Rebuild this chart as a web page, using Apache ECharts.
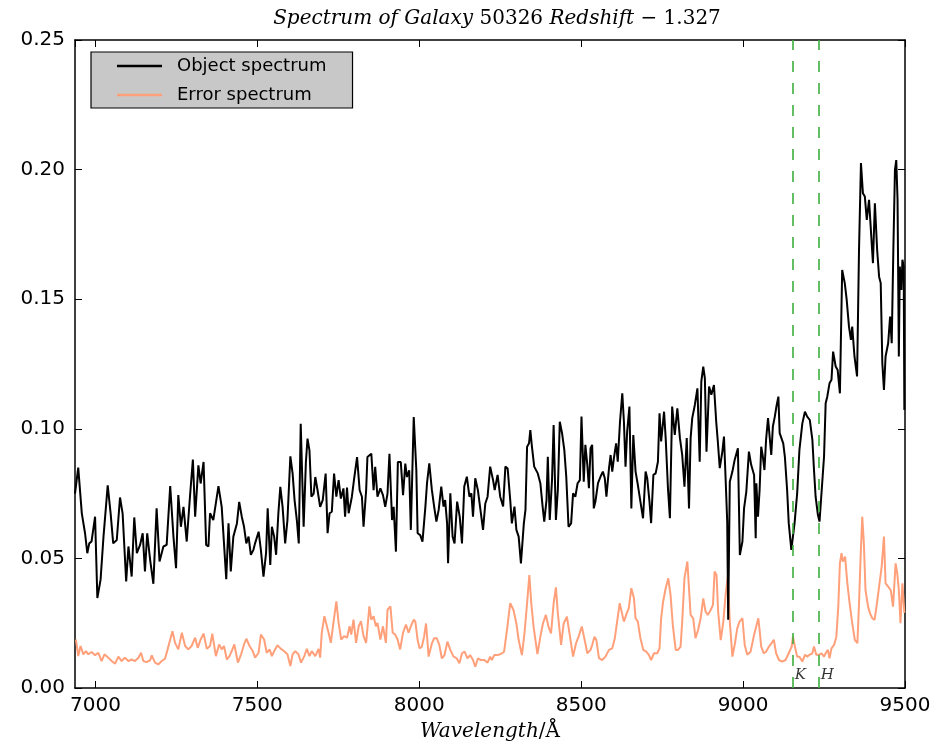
<!DOCTYPE html>
<html>
<head>
<meta charset="utf-8">
<title>Spectrum of Galaxy 50326</title>
<script src="https://cdn.jsdelivr.net/npm/echarts@6/dist/echarts.min.js"></script>
<style>
  html, body { margin: 0; padding: 0; background: #fff; }
  #chart { width: 935px; height: 748px; }
</style>
</head>
<body>
<div id="chart"></div>
<script>
// Object spectrum: wavelength (Å) and flux
const objWave = [
  6937, 6947, 6958, 6968, 6975, 6981, 6988, 6999, 7006, 7016, 7025, 7038, 7047, 7055, 7066, 7076,
  7084, 7095, 7102, 7112, 7120, 7128, 7138, 7146, 7153, 7160, 7169, 7179, 7189, 7198, 7210, 7220,
  7231, 7241, 7249, 7256, 7264, 7272, 7282, 7292, 7301, 7308, 7318, 7325, 7334, 7342, 7349, 7354,
  7364, 7380, 7390, 7404, 7411, 7418, 7426, 7437, 7444,
  7452, 7459, 7466, 7473, 7480, 7488, 7493, 7504, 7511, 7519, 7527, 7532, 7540, 7545, 7552, 7558,
  7565, 7571, 7578, 7586, 7593, 7602, 7609, 7615, 7622, 7628, 7634, 7643, 7650, 7655, 7661, 7667,
  7674, 7679, 7686, 7694, 7702, 7711, 7717, 7723, 7730, 7737, 7744, 7751, 7758, 7766, 7771, 7777,
  7782, 7792, 7799, 7808, 7816, 7823, 7828, 7836, 7840, 7852, 7859, 7864, 7871, 7880, 7888, 7895,
  7902, 7908, 7916, 7921, 7928, 7934, 7943, 7950, 7957, 7962, 7969, 7974, 7983,
  7991, 7995, 8003, 8010, 8019, 8024, 8031, 8039, 8046, 8053, 8060, 8068, 8075, 8080, 8086, 8089,
  8096, 8103, 8109, 8117, 8125, 8132, 8139, 8147, 8155, 8161, 8166, 8173, 8181, 8189, 8197, 8204,
  8211, 8219, 8228, 8233, 8242, 8250, 8259, 8266, 8273, 8281, 8286, 8294, 8300, 8307, 8314, 8323,
  8328, 8333, 8339, 8343, 8348, 8355, 8366, 8374, 8381, 8386, 8393, 8397, 8403, 8410, 8415, 8422,
  8428, 8434, 8441, 8448, 8454, 8461, 8469, 8475, 8482, 8489, 8496, 8501,
  8508, 8513, 8519, 8524, 8529, 8534, 8539, 8544, 8552, 8560, 8567, 8573, 8578, 8586, 8591, 8596,
  8601, 8608, 8613, 8620, 8627, 8632, 8637, 8642, 8649, 8655, 8661, 8668, 8675, 8683, 8691, 8699,
  8704, 8711, 8716, 8723, 8730, 8737, 8742, 8747, 8756, 8761, 8768, 8774, 8781, 8789, 8797, 8805,
  8812, 8819, 8826, 8833, 8838, 8843, 8851, 8859, 8866, 8871, 8877, 8882, 8887, 8895, 8902, 8910,
  8917, 8922, 8928, 8936, 8941, 8946, 8951, 8954, 8959, 8967, 8974, 8984, 8990, 8998, 9003, 9010,
  9018, 9025, 9034, 9039,
  9041, 9046, 9051, 9056, 9061, 9066, 9071, 9077, 9082, 9087, 9092, 9098, 9103, 9109, 9113, 9119,
  9124, 9129, 9136, 9141, 9149, 9159, 9167, 9174, 9183, 9191, 9198, 9206, 9214, 9219, 9224, 9231,
  9236, 9242, 9250, 9255,
  9260, 9267, 9273, 9278, 9286, 9292, 9299, 9306, 9314, 9320, 9327, 9333, 9337, 9344, 9352, 9358,
  9364, 9370, 9376, 9382, 9389, 9394, 9401, 9407, 9414, 9420, 9425, 9430, 9435, 9440, 9448, 9454,
  9459, 9464, 9469, 9473, 9477, 9481, 9484, 9489, 9492, 9496, 9498
];
const objFlux = [
  0.0750, 0.0850, 0.0674, 0.0597, 0.0520, 0.0558, 0.0565, 0.0661, 0.0347, 0.0418, 0.0584, 0.0782, 0.0674, 0.0558, 0.0571, 0.0735,
  0.0674, 0.0411, 0.0546, 0.0430, 0.0658, 0.0520, 0.0552, 0.0597, 0.0450, 0.0597, 0.0494, 0.0402, 0.0693, 0.0488, 0.0546, 0.0552,
  0.0779, 0.0584, 0.0462, 0.0744, 0.0622, 0.0699, 0.0565, 0.0738, 0.0881, 0.0661, 0.0859, 0.0789, 0.0872, 0.0552, 0.0546, 0.0674,
  0.0648, 0.0779, 0.0699, 0.0420, 0.0635, 0.0450, 0.0584, 0.0635, 0.0718,
  0.0661, 0.0622, 0.0558, 0.0584, 0.0514, 0.0533, 0.0558, 0.0603, 0.0533, 0.0430, 0.0520, 0.0693, 0.0475, 0.0622, 0.0584, 0.0514,
  0.0674, 0.0776, 0.0699, 0.0558, 0.0648, 0.0894, 0.0827, 0.0725, 0.0648, 0.0558, 0.1019, 0.0622, 0.0872, 0.0962, 0.0917, 0.0738,
  0.0750, 0.0814, 0.0763, 0.0699, 0.0725, 0.0827, 0.0597, 0.0674, 0.0680, 0.0827, 0.0738, 0.0802, 0.0731, 0.0770, 0.0661, 0.0773,
  0.0674, 0.0738, 0.0808, 0.0891, 0.0763, 0.0738, 0.0622, 0.0763, 0.0891, 0.0904, 0.0763, 0.0853, 0.0738, 0.0770, 0.0744, 0.0699,
  0.0750, 0.0904, 0.0648, 0.0699, 0.0526, 0.0872, 0.0872, 0.0744, 0.0866, 0.0814, 0.0840, 0.0610, 0.1045,
  0.0841, 0.0597, 0.0590, 0.0565, 0.0700, 0.0790, 0.0867, 0.0764, 0.0700, 0.0642, 0.0687, 0.0777, 0.0700, 0.0725, 0.0635, 0.0481,
  0.0751, 0.0584, 0.0558, 0.0719, 0.0661, 0.0558, 0.0777, 0.0815, 0.0738, 0.0751, 0.0661, 0.0809, 0.0764, 0.0687, 0.0610, 0.0712,
  0.0738, 0.0854, 0.0802, 0.0764, 0.0822, 0.0738, 0.0700, 0.0854, 0.0847, 0.0725, 0.0635, 0.0700, 0.0610, 0.0584, 0.0481, 0.0635,
  0.0687, 0.0931, 0.0944, 0.0995, 0.0931, 0.0854, 0.0828, 0.0790, 0.0700, 0.0642, 0.0725, 0.0892, 0.0648, 0.0802, 0.1015, 0.0648,
  0.0764, 0.1027, 0.0983, 0.0918, 0.0815, 0.0622, 0.0635, 0.0751, 0.0738, 0.0790, 0.0802, 0.1047,
  0.0796, 0.0938, 0.0861, 0.0771, 0.0925, 0.0938, 0.0693, 0.0719, 0.0790, 0.0816, 0.0835, 0.0809, 0.0738, 0.0848, 0.0899, 0.0835,
  0.0886, 0.0944, 0.0873, 0.1028, 0.1137, 0.1028, 0.0854, 0.0989, 0.1086, 0.0693, 0.0976, 0.0835, 0.0784, 0.0719, 0.0655, 0.0835,
  0.0809, 0.0719, 0.0636, 0.0822, 0.0828, 0.0873, 0.1060, 0.0951, 0.1066, 0.0964, 0.0771, 0.0655, 0.1086, 0.0976, 0.1079, 0.0964,
  0.0899, 0.0777, 0.0964, 0.0693, 0.0964, 0.1041, 0.1092, 0.1156, 0.0873, 0.1182, 0.1240, 0.1195, 0.0912, 0.1163, 0.1131, 0.1169,
  0.1028, 0.0951, 0.0848, 0.0912, 0.0970, 0.0809, 0.0642, 0.0263, 0.0796, 0.0835, 0.0880, 0.0925, 0.0513, 0.0565, 0.0693, 0.0758,
  0.0912, 0.0861, 0.0822, 0.0578,
  0.0790, 0.0661, 0.0764, 0.0931, 0.0893, 0.0841, 0.0957, 0.1041, 0.0970, 0.0899, 0.1009, 0.1047, 0.1086, 0.1124, 0.0983, 0.0989,
  0.0944, 0.0893, 0.0764, 0.0636, 0.0533, 0.0636, 0.0751, 0.0919, 0.1021, 0.1066, 0.1047, 0.1034, 0.0957, 0.0841, 0.0738, 0.0668,
  0.0642, 0.0648, 0.0893, 0.1099,
  0.1124, 0.1176, 0.1189, 0.1298, 0.1240, 0.1227, 0.1137, 0.1613, 0.1562, 0.1497, 0.1394, 0.1343, 0.1394, 0.1279, 0.1202, 0.1690,
  0.2025, 0.1909, 0.1896, 0.1806, 0.1883, 0.1780, 0.1639, 0.1870, 0.1690, 0.1587, 0.1562, 0.1253, 0.1150, 0.1279, 0.1330, 0.1433,
  0.1330, 0.1690, 0.1999, 0.2037, 0.1883, 0.1279, 0.1626, 0.1536, 0.1652, 0.1626, 0.1073
];

// Error spectrum: wavelength (Å) and flux uncertainty
const errWave = [
  6940, 6947, 6954, 6963, 6971, 6978, 6988, 6999, 7009, 7019, 7028, 7040, 7050, 7061, 7071, 7081,
  7091, 7102, 7112, 7122, 7133, 7141, 7148, 7158, 7169, 7174, 7184, 7194, 7205, 7215, 7223, 7231,
  7238, 7246, 7256, 7267, 7277, 7287, 7297, 7308, 7316, 7325, 7334, 7344, 7354, 7361, 7372, 7382,
  7390, 7397, 7406, 7414, 7421, 7429, 7440, 7450, 7459,
  7466, 7476, 7486, 7493, 7504, 7511, 7521, 7529, 7538, 7545, 7552, 7562, 7573, 7583, 7593, 7602,
  7609, 7617, 7627, 7635, 7645, 7653, 7661, 7668, 7679, 7689, 7694, 7699, 7707, 7713, 7720, 7727,
  7735, 7744, 7751, 7759, 7768, 7777, 7785, 7790, 7797, 7805, 7813, 7820, 7828, 7836, 7846, 7852,
  7859, 7866, 7871, 7880, 7888, 7897, 7902, 7911, 7918, 7926, 7933, 7941, 7950, 7959, 7967, 7974,
  7983,
  7988, 7995, 8001, 8008, 8015, 8021, 8029, 8039, 8046, 8054, 8062, 8070, 8078, 8087, 8096, 8106,
  8116, 8124, 8132, 8140, 8149, 8157, 8166, 8173, 8181, 8190, 8201, 8211, 8219, 8224, 8232, 8242,
  8252, 8262, 8271, 8281, 8291, 8300, 8307, 8317, 8325, 8333, 8340, 8346, 8353, 8365, 8374, 8382,
  8391, 8399, 8407, 8415, 8422, 8428, 8438, 8446, 8456, 8464, 8475, 8484, 8492, 8502, 8513,
  8519, 8529, 8534, 8541, 8547, 8555, 8565, 8575, 8586, 8596, 8604, 8611, 8619, 8625, 8632, 8639,
  8647, 8655, 8663, 8668, 8675, 8683, 8692, 8701, 8709, 8716, 8725, 8735, 8742, 8747, 8753, 8761,
  8769, 8776, 8783, 8792, 8799, 8807, 8812, 8819, 8828, 8833, 8838, 8846, 8853, 8861, 8869, 8877,
  8884, 8891, 8900, 8907, 8912, 8918, 8923, 8931, 8939, 8946, 8953, 8959, 8967, 8974, 8982, 8989,
  8998, 9005, 9013, 9023, 9034, 9039,
  9044, 9047, 9051, 9056, 9064, 9071, 9080, 9088, 9095, 9102, 9111, 9121, 9131, 9141, 9150, 9154,
  9160, 9167, 9174, 9183, 9191, 9198, 9205, 9214, 9219, 9226, 9234, 9242, 9250, 9255, 9262, 9267,
  9273, 9281, 9288, 9294, 9299, 9304, 9308, 9315, 9322, 9329, 9337, 9345, 9353, 9358, 9363, 9368,
  9373, 9378, 9386, 9392, 9399, 9406, 9412, 9420, 9428, 9435, 9440, 9448, 9456, 9463, 9471, 9476,
  9481, 9486, 9492, 9498
];
const errFlux = [
  0.0187, 0.0123, 0.0162, 0.0130, 0.0142, 0.0130, 0.0139, 0.0126, 0.0136, 0.0104, 0.0130, 0.0117, 0.0104, 0.0094, 0.0121, 0.0104,
  0.0117, 0.0104, 0.0110, 0.0104, 0.0117, 0.0136, 0.0104, 0.0100, 0.0107, 0.0126, 0.0098, 0.0091, 0.0104, 0.0113, 0.0149, 0.0187,
  0.0219, 0.0174, 0.0149, 0.0213, 0.0162, 0.0149, 0.0162, 0.0194, 0.0155, 0.0187, 0.0210, 0.0151, 0.0162, 0.0210, 0.0123, 0.0168,
  0.0149, 0.0162, 0.0110, 0.0123, 0.0142, 0.0168, 0.0098, 0.0130, 0.0168,
  0.0190, 0.0162, 0.0142, 0.0117, 0.0136, 0.0206, 0.0187, 0.0136, 0.0149, 0.0123, 0.0142, 0.0165, 0.0151, 0.0142, 0.0130, 0.0085,
  0.0130, 0.0142, 0.0130, 0.0098, 0.0123, 0.0151, 0.0123, 0.0142, 0.0123, 0.0151, 0.0117, 0.0213, 0.0277, 0.0283, 0.0213, 0.0174,
  0.0251, 0.0334, 0.0251, 0.0187, 0.0200, 0.0194, 0.0238, 0.0206, 0.0264, 0.0174, 0.0238, 0.0258, 0.0200, 0.0174, 0.0315, 0.0264,
  0.0277, 0.0238, 0.0251, 0.0187, 0.0238, 0.0174, 0.0302, 0.0315, 0.0213, 0.0206, 0.0187, 0.0149, 0.0213, 0.0245, 0.0213, 0.0238,
  0.0264,
  0.0256, 0.0185, 0.0153, 0.0159, 0.0198, 0.0249, 0.0121, 0.0172, 0.0192, 0.0192, 0.0166, 0.0114, 0.0127, 0.0179, 0.0147, 0.0121,
  0.0114, 0.0095, 0.0134, 0.0140, 0.0114, 0.0127, 0.0108, 0.0082, 0.0114, 0.0108, 0.0108, 0.0098, 0.0121, 0.0108, 0.0127, 0.0127,
  0.0131, 0.0140, 0.0224, 0.0327, 0.0301, 0.0249, 0.0185, 0.0127, 0.0211, 0.0327, 0.0436, 0.0327, 0.0237, 0.0131, 0.0198, 0.0249,
  0.0282, 0.0237, 0.0211, 0.0327, 0.0388, 0.0288, 0.0166, 0.0249, 0.0275, 0.0211, 0.0121, 0.0172, 0.0198, 0.0237, 0.0172,
  0.0134, 0.0147, 0.0166, 0.0198, 0.0185, 0.0115, 0.0108, 0.0121, 0.0147, 0.0153, 0.0192, 0.0256, 0.0327, 0.0333, 0.0256, 0.0282,
  0.0308, 0.0385, 0.0346, 0.0269, 0.0256, 0.0192, 0.0147, 0.0140, 0.0128, 0.0108, 0.0134, 0.0134, 0.0153, 0.0269, 0.0333, 0.0385,
  0.0423, 0.0359, 0.0243, 0.0147, 0.0147, 0.0160, 0.0256, 0.0423, 0.0488, 0.0385, 0.0282, 0.0269, 0.0192, 0.0224, 0.0269, 0.0346,
  0.0295, 0.0282, 0.0301, 0.0321, 0.0449, 0.0436, 0.0295, 0.0185, 0.0256, 0.0359, 0.0430, 0.0256, 0.0121, 0.0166, 0.0230, 0.0256,
  0.0269, 0.0166, 0.0128, 0.0140, 0.0205, 0.0230,
  0.0224, 0.0269, 0.0224, 0.0160, 0.0134, 0.0140, 0.0160, 0.0173, 0.0186, 0.0134, 0.0108, 0.0102, 0.0108, 0.0134, 0.0160, 0.0198,
  0.0160, 0.0121, 0.0121, 0.0102, 0.0128, 0.0121, 0.0128, 0.0134, 0.0160, 0.0128, 0.0128, 0.0134, 0.0121, 0.0134, 0.0147, 0.0115,
  0.0153, 0.0166, 0.0198, 0.0314, 0.0481, 0.0520, 0.0488, 0.0507, 0.0404, 0.0327, 0.0250, 0.0186, 0.0173, 0.0327, 0.0507, 0.0661,
  0.0558, 0.0378, 0.0314, 0.0288, 0.0269, 0.0263, 0.0314, 0.0391, 0.0468, 0.0584, 0.0404, 0.0391, 0.0378, 0.0314, 0.0481, 0.0443,
  0.0378, 0.0250, 0.0404, 0.0290
];

// Ca II K and H lines at the galaxy's redshift
const lineNames = ['K', 'H'];
const lineWaves = [9153, 9234];
const lineLabelFlux = 0.005;

const seriesNames = ['Object spectrum', 'Error spectrum'];
const xMin = 6937, xMax = 9500;
const yMin = 0, yMax = 0.25, yStep = 0.05;

const zip = (xs, ys) => xs.map((x, i) => [x, ys[i]]);

const serif = 'DejaVu Serif';
const sans = 'DejaVu Sans';

const tickStyle = { inside: true, length: 7, lineStyle: { color: '#000', width: 1 } };
const frameLine = { show: true, onZero: false, lineStyle: { color: '#000', width: 1.5 } };
const mathText = {
  i: { fontFamily: serif, fontStyle: 'italic', fontWeight: 'normal', fontSize: 20, color: '#000' },
  n: { fontFamily: serif, fontStyle: 'normal', fontWeight: 'normal', fontSize: 20, color: '#000' }
};

const chart = echarts.init(document.getElementById('chart'), null, { renderer: 'canvas' });

chart.setOption({
  animation: false,
  backgroundColor: '#fff',
  title: {
    text: '{i|Spectrum of Galaxy }{n|50326}{i| Redshift }{n|\u2212 1.327}',
    left: 492,
    textAlign: 'center',
    top: 4,
    textStyle: { fontWeight: 'normal', rich: mathText }
  },
  legend: {
    data: seriesNames,
    orient: 'vertical',
    left: 91,
    top: 52,
    icon: 'rect',
    itemWidth: 45,
    itemHeight: 2.5,
    itemGap: 9,
    padding: [4, 26, 3, 26],
    backgroundColor: '#c8c8c8',
    borderColor: '#000',
    borderWidth: 1.2,
    borderRadius: 0,
    textStyle: { fontFamily: sans, fontSize: 18, color: '#000', lineHeight: 20, padding: [0, 0, 0, 10] }
  },
  grid: { left: 75, right: 30, top: 40, bottom: 60, show: false, containLabel: false, outerBoundsMode: 'none' },
  xAxis: [
    {
      type: 'value', min: xMin, max: xMax, position: 'bottom',
      axisLine: frameLine, axisTick: tickStyle, splitLine: { show: false },
      axisLabel: { color: '#000', fontFamily: sans, fontSize: 20, margin: 8, showMinLabel: false, formatter: v => String(v) },
      name: '{i|Wavelength}{n|/\u00c5}',
      nameLocation: 'middle',
      nameGap: 34,
      nameTextStyle: { rich: mathText }
    },
    {
      type: 'value', min: xMin, max: xMax, position: 'top',
      axisLine: frameLine, axisTick: tickStyle, splitLine: { show: false },
      axisLabel: { show: false }
    }
  ],
  yAxis: [
    {
      type: 'value', min: yMin, max: yMax, interval: yStep, position: 'left',
      axisLine: frameLine, axisTick: tickStyle, splitLine: { show: false },
      axisLabel: { color: '#000', fontFamily: sans, fontSize: 20, margin: 10, formatter: v => v.toFixed(2) }
    },
    {
      type: 'value', min: yMin, max: yMax, interval: yStep, position: 'right',
      axisLine: frameLine, axisTick: tickStyle, splitLine: { show: false },
      axisLabel: { show: false }
    }
  ],
  series: [
    {
      name: seriesNames[0],
      type: 'line',
      data: zip(objWave, objFlux),
      symbol: 'none',
      lineStyle: { color: '#000', width: 2 },
      itemStyle: { color: '#000' },
      z: 3,
      markLine: {
        silent: true,
        symbol: ['none', 'none'],
        label: { show: false },
        lineStyle: { color: '#3eae3e', width: 1.6, type: [11, 11] },
        data: lineWaves.map(w => ({ xAxis: w }))
      }
    },
    {
      name: seriesNames[1],
      type: 'line',
      data: zip(errWave, errFlux),
      symbol: 'none',
      lineStyle: { color: '#ffa07a', width: 2 },
      itemStyle: { color: '#ffa07a' },
      z: 2
    },
    {
      name: 'line labels',
      type: 'scatter',
      symbolSize: 0,
      silent: true,
      data: lineWaves.map((w, i) => ({ value: [w, lineLabelFlux], name: lineNames[i] })),
      label: {
        show: true,
        position: 'right',
        distance: 2,
        formatter: p => p.name,
        fontFamily: serif,
        fontStyle: 'italic',
        fontSize: 15,
        color: '#000'
      }
    }
  ]
});
</script>
</body>
</html>
